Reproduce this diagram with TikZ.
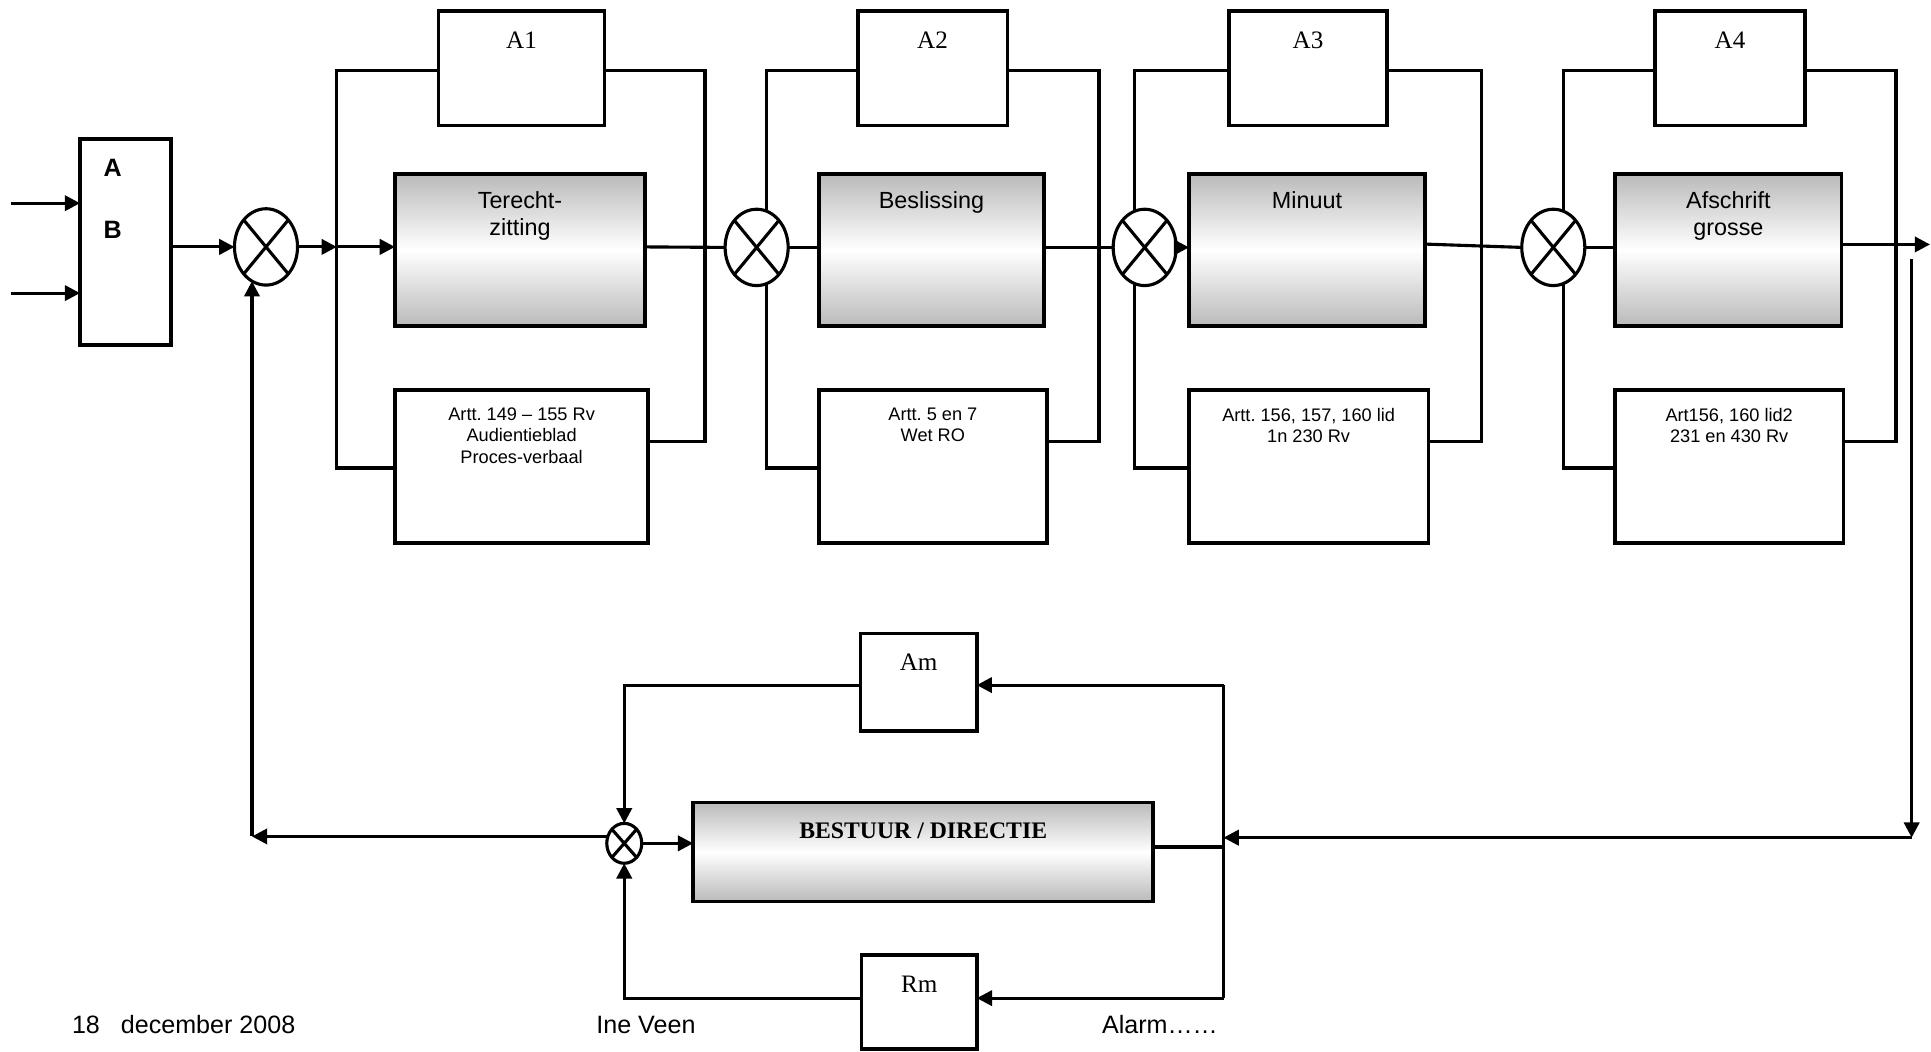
\documentclass[tikz,border=0pt]{standalone}
\usepackage{fontspec}
\setmainfont{Liberation Sans}
\newfontfamily\tmsfont{Liberation Serif}
\usetikzlibrary{arrows.meta,positioning,shapes.geometric}
\frenchspacing

\begin{document}
\begin{tikzpicture}[x=0.25mm,y=-0.25mm,
  lijn/.style={line width=1.8pt},
  pijl/.style={lijn,-{Triangle[length=3.1mm,width=3.1mm]}},
  blok/.style={draw,line width=2.1pt,inner sep=0pt,outer sep=0pt},
  wit/.style={blok,fill=white},
  proces/.style={blok,top color=black!27,bottom color=black!27,middle color=white},
  som/.style={ellipse,draw,lijn,fill=white,inner sep=0pt,outer sep=0pt,
    minimum width=12.8mm,minimum height=15.5mm,
    path picture={\draw[line width=1.8pt]
      (path picture bounding box.north west) -- (path picture bounding box.south east)
      (path picture bounding box.south west) -- (path picture bounding box.north east);}},
  titel/.style={inner sep=0pt,align=center,font=\fontsize{13.5}{15.5}\selectfont},
  regel/.style={inner sep=0pt,align=center,font=\fontsize{10.5}{12.2}\selectfont},
  anaam/.style={inner sep=0pt,font=\tmsfont\fontsize{14.5}{16}\selectfont},
  voet/.style={inner sep=0pt,anchor=base west,font=\fontsize{14.5}{16}\selectfont}]

  \useasboundingbox (0,0) rectangle (1568,854);

  % invoer
  \node[wit,minimum width=18.5mm,minimum height=41.75mm] (ab) at (102,196.5) {};
  \node[inner sep=0pt,font=\bfseries\fontsize{14.5}{17}\selectfont] (abA) at (91.5,136) {A};
  \node[inner sep=0pt,font=\bfseries\fontsize{14.5}{17}\selectfont] (abB) at (91.5,187) {B};
  \coordinate (in1) at (8.7,165);
  \coordinate (in2) at (8.7,238);
  \draw[pijl] (in1) -- (in1 -| ab.west);
  \draw[pijl] (in2) -- (in2 -| ab.west);

  % stap 1
  \node[wit,minimum width=33.75mm,minimum height=23.3mm] (a1) at (423.5,55.35) {};
  \node[anaam,below=4.3mm of a1.north] (a1t) {A1};
  \node[proces,minimum width=50.75mm,minimum height=30.75mm] (p1) at (422.25,203) {};
  \node[titel,below=3.5mm of p1.north] (p1t) {Terecht-\\zitting};
  \node[wit,minimum width=51.4mm,minimum height=31mm] (l1) at (423.55,378.75) {};
  \node[regel,below=3.6mm of l1.north] (l1t) {Artt. 149 – 155 Rv\\Audientieblad\\Proces-verbaal};
  \coordinate (t1) at (273.5,57.4);
  \coordinate (u1) at (273.5,380);
  \coordinate (r1) at (572.5,57.4);
  \coordinate (s1) at (572.5,358.7);
  \draw[lijn] (u1 -| l1.west) -- (u1) -- (t1) -- (t1 -| a1.west);
  \draw[lijn] (a1.east |- r1) -- (r1) -- (s1) -- (s1 -| l1.east);

  % stap 2
  \node[wit,minimum width=30.4mm,minimum height=23.3mm] (a2) at (757.25,55.35) {};
  \node[anaam,below=4.3mm of a2.north] (a2t) {A2};
  \node[proces,minimum width=45.7mm,minimum height=30.75mm] (p2) at (756.35,203) {};
  \node[titel,below=3.5mm of p2.north] (p2t) {Beslissing};
  \node[wit,minimum width=46.25mm,minimum height=31mm] (l2) at (757.5,378.75) {};
  \node[regel,below=3.6mm of l2.north] (l2t) {Artt. 5 en 7\\Wet RO};
  \coordinate (t2) at (622.6,57.4);
  \coordinate (u2) at (622.6,380);
  \coordinate (r2) at (892.4,57.4);
  \coordinate (s2) at (892.4,358.7);
  \draw[lijn] (u2 -| l2.west) -- (u2) -- (t2) -- (t2 -| a2.west);
  \draw[lijn] (a2.east |- r2) -- (r2) -- (s2) -- (s2 -| l2.east);

  % stap 3
  \node[wit,minimum width=32mm,minimum height=23.3mm] (a3) at (1062.1,55.35) {};
  \node[anaam,below=4.3mm of a3.north] (a3t) {A3};
  \node[proces,minimum width=47.9mm,minimum height=30.75mm] (p3) at (1061.3,203) {};
  \node[titel,below=3.5mm of p3.north] (p3t) {Minuut};
  \node[wit,minimum width=48.6mm,minimum height=31mm] (l3) at (1062.65,378.75) {};
  \node[regel,below=3.6mm of l3.north] (l3t) {Artt. 156, 157, 160 lid\\1n 230 Rv};
  \coordinate (t3) at (921.1,57.4);
  \coordinate (u3) at (921.1,380);
  \coordinate (r3) at (1203.2,57.4);
  \coordinate (s3) at (1203.2,358.7);
  \draw[lijn] (u3 -| l3.west) -- (u3) -- (t3) -- (t3 -| a3.west);
  \draw[lijn] (a3.east |- r3) -- (r3) -- (s3) -- (s3 -| l3.east);

  % stap 4
  \node[wit,minimum width=30.45mm,minimum height=23.3mm] (a4) at (1404.8,55.35) {};
  \node[anaam,below=4.3mm of a4.north] (a4t) {A4};
  \node[proces,minimum width=46mm,minimum height=30.75mm] (p4) at (1403.45,203) {};
  \node[titel,below=3.5mm of p4.north] (p4t) {Afschrift\\grosse};
  \node[wit,minimum width=46.35mm,minimum height=31mm] (l4) at (1404.1,378.75) {};
  \node[regel,below=3.6mm of l4.north] (l4t) {Art156, 160 lid2\\231 en 430 Rv};
  \coordinate (t4) at (1269.4,57.4);
  \coordinate (u4) at (1269.4,380);
  \coordinate (r4) at (1539.6,57.4);
  \coordinate (s4) at (1539.6,358.7);
  \draw[lijn] (u4 -| l4.west) -- (u4) -- (t4) -- (t4 -| a4.west);
  \draw[lijn] (a4.east |- r4) -- (r4) -- (s4) -- (s4 -| l4.east);

  \node[som] (c1) at (216,200.5) {};
  \node[som] (c2) at (614.4,200.9) {};
  \node[som] (c3) at (929.5,200.9) {};
  \node[som] (c4) at (1261.3,200.9) {};

  \draw[pijl] (ab.east |- c1) -- (c1.west);
  \draw[pijl] (c1.east) -- (c1 -| t1);
  \draw[pijl] (c1 -| t1) -- (c1 -| p1.west);
  \draw[lijn] (c1 -| p1.east) -- (c2.west);
  \draw[lijn] (c2.east) -- (c2 -| p2.west);
  \draw[lijn] (c2 -| p2.east) -- (c3.west);
  \draw[pijl] (c3.east) -- (c3 -| p3.west);
  \draw[lijn] ([yshift=1.2mm]p3.east) -- (c4.west);
  \draw[lijn] (c4.east) -- (c4 -| p4.west);
  \coordinate (uit) at (1567.2,198.5);
  \draw[pijl] (p4.east |- uit) -- (uit);

  % bestuur
  \node[wit,minimum width=23.6mm,minimum height=19.85mm] (am) at (745.9,554) {};
  \node[anaam,below=4.2mm of am.north] (amt) {Am};
  \node[wit,minimum width=23.4mm,minimum height=19.1mm] (rm) at (746.4,813.6) {};
  \node[anaam,below=4.3mm of rm.north] (rmt) {Rm};
  \node[proces,minimum width=93.4mm,minimum height=20.05mm] (bs) at (749.65,691.8) {};
  \node[inner sep=0pt,font=\tmsfont\bfseries\fontsize{13.7}{16}\selectfont,below=4mm of bs.north] (bst) {BESTUUR / DIRECTIE};
  \node[som,minimum width=7.1mm,minimum height=8.1mm] (mix) at (506.9,684.8) {};

  \coordinate (fr) at (1552.3,210.6);
  \coordinate (fh) at (1552.3,680.2);
  \coordinate (kv) at (993.5,556.3);
  \coordinate (kw) at (993.5,810.5);
  \coordinate (fl) at (204.6,679.2);
  \draw[pijl] (fr) -- (fh);
  \draw[pijl] (fh) -- (fh -| kv);
  \draw[lijn] (kv) -- (kw);
  \draw[pijl] (kv) -- (kv -| am.east);
  \draw[pijl] (kw) -- (kw -| rm.east);
  \draw[lijn] ([yshift=1mm]bs.east) -- ([yshift=1mm]bs.east -| kv);
  \draw[pijl] (am.west |- kv) -| (mix.north);
  \draw[pijl] (rm.west |- kw) -| (mix.south);
  \draw[pijl] (mix.east) -- (mix.east -| bs.west);
  \draw[pijl] (fl -| mix.west) -- (fl);
  \draw[pijl] (fl) -- (fl |- c1.248);

  \node[voet] (datum) at (58.2,839.1) {18~~~december 2008};
  \node[voet] (naam) at (484,839.1) {Ine Veen};
  \node[voet] (alarm) at (894.6,839.1) {Alarm……};

\end{tikzpicture}
\end{document}
